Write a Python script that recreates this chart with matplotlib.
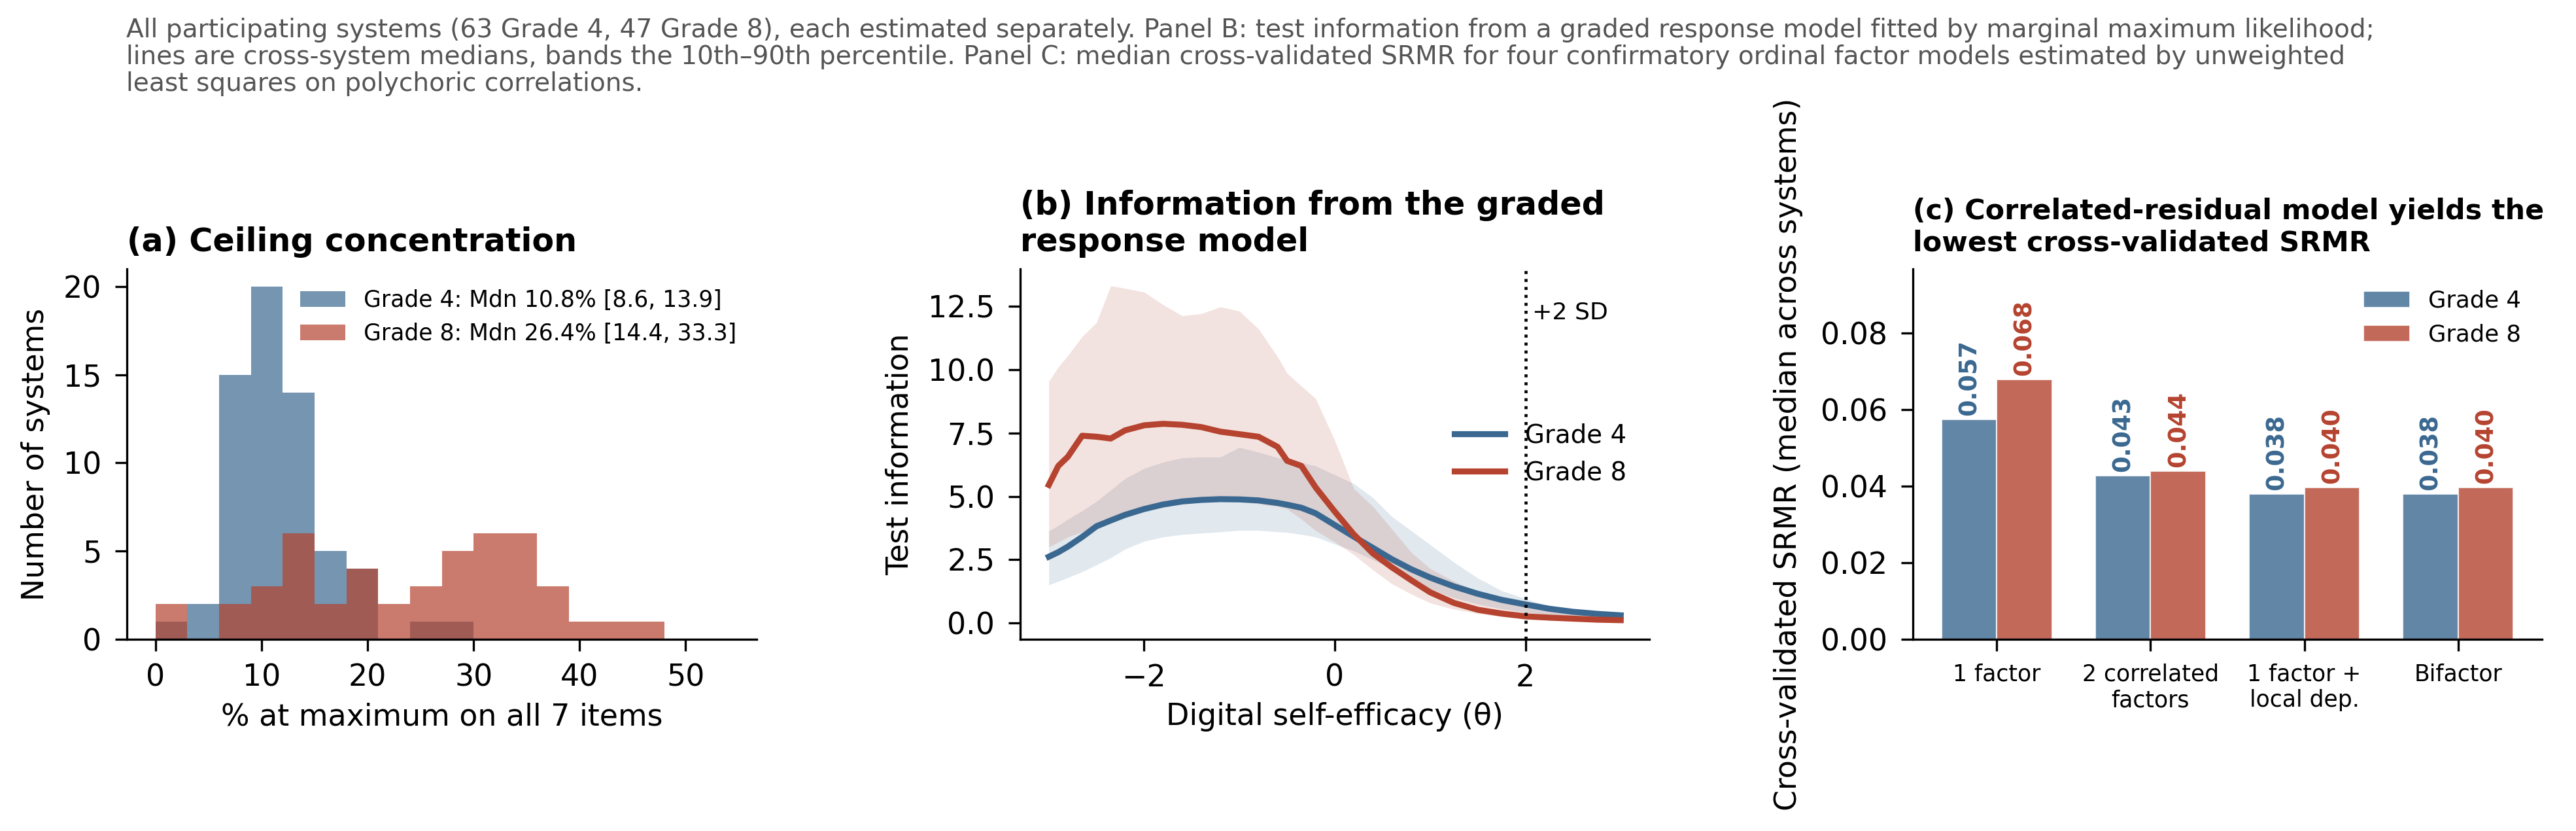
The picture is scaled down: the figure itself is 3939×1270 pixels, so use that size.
import numpy as np
import matplotlib
matplotlib.use("Agg")
import matplotlib.pyplot as plt

# ---------------- data ----------------
# Panel A: histogram counts per 3-point bin (0-54)
bin_edges = [0, 3, 6, 9, 12, 15, 18, 21, 24, 27, 30, 33, 36, 39, 42, 45, 48, 51, 54]
g4_counts = [1, 2, 15, 20, 14, 5, 4, 0, 1, 1, 0, 0, 0, 0, 0, 0, 0, 0]
g8_counts = [2, 0, 2, 3, 6, 2, 4, 2, 3, 5, 6, 6, 3, 1, 1, 1, 0, 0]
g4_label = "Grade 4: Mdn 10.8% [8.6, 13.9]"
g8_label = "Grade 8: Mdn 26.4% [14.4, 33.3]"

# Panel B: test information curves
theta = [-3.0, -2.9, -2.8, -2.65, -2.5, -2.35, -2.2, -2.0, -1.8, -1.6, -1.4, -1.2,
         -1.0, -0.8, -0.6, -0.5, -0.35, -0.2, 0.0, 0.2, 0.4, 0.6, 0.8, 1.0,
         1.25, 1.5, 1.75, 2.0, 2.25, 2.5, 2.75, 3.0]
g8_med = [5.45, 6.2, 6.56, 7.39, 7.35, 7.28, 7.6, 7.8, 7.86, 7.82, 7.73, 7.55,
          7.45, 7.35, 6.95, 6.4, 6.2, 5.35, 4.4, 3.5, 2.75, 2.2, 1.7, 1.22,
          0.8, 0.53, 0.38, 0.27, 0.22, 0.18, 0.14, 0.12]
g4_med = [2.62, 2.8, 3.02, 3.4, 3.82, 4.05, 4.27, 4.5, 4.68, 4.8, 4.86, 4.89,
          4.88, 4.84, 4.74, 4.67, 4.55, 4.33, 3.87, 3.41, 2.97, 2.52, 2.13, 1.8,
          1.45, 1.16, 0.92, 0.74, 0.57, 0.45, 0.37, 0.31]
g8_hi = [9.53, 10.1, 10.55, 11.3, 11.85, 13.3, 13.2, 13.05, 12.55, 12.12, 12.2, 12.47,
         12.3, 11.6, 10.5, 9.85, 9.35, 8.85, 7.2, 5.3, 4.6, 3.7, 2.8, 2.15,
         1.65, 1.25, 0.92, 0.65, 0.48, 0.35, 0.26, 0.2]
g8_lo = [3.0, 3.2, 3.4, 3.6, 3.9, 4.1, 4.3, 4.5, 4.65, 4.75, 4.8, 4.85,
         4.8, 4.7, 4.6, 4.5, 4.1, 3.65, 3.2, 2.7, 2.1, 1.55, 1.15, 0.8,
         0.55, 0.38, 0.26, 0.18, 0.12, 0.08, 0.05, 0.03]
g4_hi = [3.64, 3.85, 4.1, 4.43, 4.8, 5.25, 5.7, 6.1, 6.35, 6.52, 6.55, 6.55,
         6.93, 6.74, 6.52, 6.45, 6.33, 6.2, 5.85, 5.5, 4.95, 4.2, 3.65, 3.1,
         2.4, 1.78, 1.28, 0.97, 0.67, 0.5, 0.38, 0.31]
g4_lo = [1.51, 1.65, 1.8, 2.03, 2.3, 2.58, 2.92, 3.23, 3.4, 3.5, 3.55, 3.6,
         3.66, 3.66, 3.6, 3.58, 3.5, 3.4, 3.12, 2.85, 2.5, 2.15, 1.75, 1.35,
         1.0, 0.75, 0.57, 0.43, 0.33, 0.25, 0.19, 0.15]
theta_ticks = [-2, 0, 2]

# Panel C: cross-validated SRMR
models = ["1 factor", "2 correlated\nfactors", "1 factor +\nlocal dep.", "Bifactor"]
srmr_g4 = [0.0574, 0.0427, 0.0379, 0.0379]
srmr_g8 = [0.0679, 0.0439, 0.0396, 0.0396]

caption = ("All participating systems (63 Grade 4, 47 Grade 8), each estimated separately. "
           "Panel B: test information from a graded response model fitted by marginal maximum likelihood;\n"
           "lines are cross-system medians, bands the 10th\u201390th percentile. Panel C: median "
           "cross-validated SRMR for four confirmatory ordinal factor models estimated by unweighted\n"
           "least squares on polychoric correlations.")

# ---------------- style ----------------
BLUE = "#3a6890"
RED = "#b5432f"
W, H = 3939, 1270
DPI = 300

plt.rcParams.update({
    "font.family": ["DejaVu Sans"],
    "axes.linewidth": 0.8,
    "xtick.major.size": 4.4,
    "ytick.major.size": 4.4,
    "xtick.major.width": 0.8,
    "ytick.major.width": 0.8,
    "xtick.major.pad": 4.4,
    "ytick.major.pad": 4.9,
    "xtick.labelsize": 11,
    "ytick.labelsize": 11,
    "axes.labelsize": 11,
})

fig = plt.figure(figsize=(W / DPI, H / DPI), dpi=DPI)


def rect(left, right, top, bottom):
    return [left / W, 1 - bottom / H, (right - left) / W, (bottom - top) / H]


axA = fig.add_axes(rect(194, 1157, 411, 977))
axB = fig.add_axes(rect(1560, 2522, 411, 977))
axC = fig.add_axes(rect(2925, 3887, 411, 977))

for ax in (axA, axB, axC):
    ax.spines["top"].set_visible(False)
    ax.spines["right"].set_visible(False)

# ---------------- Panel A ----------------
centers = [(bin_edges[i] + bin_edges[i + 1]) / 2 for i in range(len(bin_edges) - 1)]
axA.hist(centers, bins=bin_edges, weights=g4_counts, color=BLUE, alpha=0.7,
         label=g4_label, linewidth=0)
axA.hist(centers, bins=bin_edges, weights=g8_counts, color=RED, alpha=0.7,
         label=g8_label, linewidth=0)
axA.set_xlabel("% at maximum on all 7 items", labelpad=3.5)
axA.set_ylabel("Number of systems")
axA.yaxis.set_label_coords(-0.1215, 0.5)
axA.set_title("(a) Ceiling concentration", loc="left", fontsize=11.8,
              fontweight="bold", pad=6.5)
axA.legend(loc="upper right", frameon=False, fontsize=8.3)

# ---------------- Panel B ----------------
axB.fill_between(theta, g4_lo, g4_hi, color=BLUE, alpha=0.15, linewidth=0)
axB.fill_between(theta, g8_lo, g8_hi, color=RED, alpha=0.15, linewidth=0)
axB.plot(theta, g4_med, color=BLUE, lw=2.2, label="Grade 4")
axB.plot(theta, g8_med, color=RED, lw=2.2, label="Grade 8")
axB.axvline(2, color="black", linestyle=":", lw=1.1)
axB.text(2.07, 0.912, "+2 SD", transform=axB.get_xaxis_transform(),
         ha="left", va="top", fontsize=8.7)
axB.set_xticks(theta_ticks)
axB.set_xlabel("Digital self-efficacy (\u03b8)", labelpad=3.5)
axB.set_ylabel("Test information")
axB.yaxis.set_label_coords(-0.1678, 0.5)
axB.set_title("(b) Information from the graded\nresponse model", loc="left",
              fontsize=11.8, fontweight="bold", pad=6.5)
axB.legend(loc="center right", frameon=False, fontsize=9.3)

# ---------------- Panel C ----------------
x = np.arange(len(models))
bw = 0.36
b4 = axC.bar(x - bw / 2, srmr_g4, bw, color=BLUE, alpha=0.8, label="Grade 4",
             edgecolor="white", linewidth=0.5)
b8 = axC.bar(x + bw / 2, srmr_g8, bw, color=RED, alpha=0.8, label="Grade 8",
             edgecolor="white", linewidth=0.5)
for bars, vals, col in ((b4, srmr_g4, BLUE), (b8, srmr_g8, RED)):
    for rct, v in zip(bars, vals):
        axC.annotate(f"{v:.3f}", (rct.get_x() + rct.get_width() / 2, v),
                     xytext=(0, 1.4), textcoords="offset points", rotation=90,
                     ha="center", va="bottom", fontsize=8.8, fontweight="bold",
                     color=col)
axC.set_xticks(x)
axC.set_xticklabels(models, fontsize=8.3)
axC.set_ylim(0, 0.0967)
axC.set_ylabel("Cross-validated SRMR (median across systems)")
axC.yaxis.set_label_coords(-0.1746, 0.5)
axC.set_title("(c) Correlated-residual model yields the\nlowest cross-validated SRMR",
              loc="left", fontsize=10.3, fontweight="bold", pad=6.5)
axC.legend(loc="upper right", frameon=False, fontsize=8.5)

# ---------------- caption ----------------
fig.text(193 / W, 1 - 27 / H, caption, ha="left", va="top", fontsize=9.4,
         color="#555555", linespacing=1.1)

fig.savefig("out.png", dpi=DPI)
